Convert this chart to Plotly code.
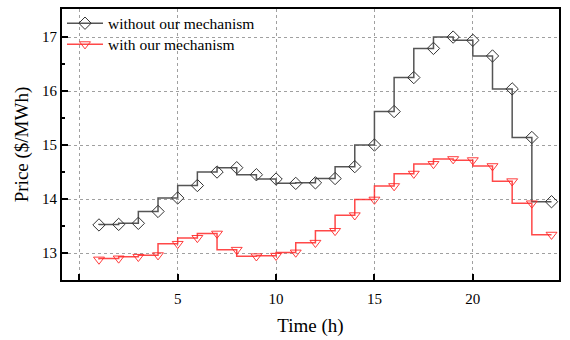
import plotly.graph_objects as go

hours = list(range(1, 25))
price_without = [13.52, 13.53, 13.55, 13.77, 14.02, 14.25, 14.50, 14.58, 14.45, 14.37, 14.29, 14.30,
                 14.38, 14.60, 15.00, 15.62, 16.25, 16.79, 17.00, 16.94, 16.65, 16.04, 15.14, 13.95]
price_with = [12.88, 12.90, 12.93, 12.96, 13.17, 13.28, 13.36, 13.06, 12.94, 12.95, 13.01, 13.19,
              13.41, 13.70, 13.99, 14.24, 14.47, 14.65, 14.74, 14.72, 14.61, 14.33, 13.92, 13.34]
x_tickvals = [0, 5, 10, 15, 20]
x_ticktext = ["", "5", "10", "15", "20"]
y_tickvals = [13, 14, 15, 16, 17]

FONT = "Liberation Serif, Times New Roman, serif"

fig = go.Figure()
fig.add_trace(go.Scatter(
    x=hours, y=price_without, name="without our mechanism", legend="legend",
    mode="lines+markers", line=dict(shape="vh", color="#555555", width=1.5),
    marker=dict(symbol="diamond-open", size=9.5, color="#333333", line=dict(width=1))))
fig.add_trace(go.Scatter(
    x=hours, y=price_with, name="with our mechanism", legend="legend2",
    mode="lines+markers", line=dict(shape="vh", color="rgba(255,40,40,0.85)", width=1.5),
    marker=dict(symbol="triangle-down-open", size=9.5, color="rgba(255,40,40,0.9)", line=dict(width=1))))

axis_common = dict(showline=True, linecolor="black", linewidth=2, mirror=True,
                   ticks="inside", tickcolor="black", tickwidth=1.5,
                   showgrid=True, gridcolor="#a0a0a0", griddash="3px,3px", gridwidth=1,
                   zeroline=False, automargin=False,
                   tickfont=dict(family=FONT, size=15, color="black"))

fig.update_xaxes(range=[-0.88, 24.38], tickvals=x_tickvals, ticktext=x_ticktext, ticklen=6,
                 ticklabelstandoff=4,
                 title=dict(text="Time (h)", font=dict(family=FONT, size=19, color="black"), standoff=13),
                 **axis_common)
fig.update_yaxes(range=[12.5, 17.52], tickvals=y_tickvals, ticklen=6,
                 minor=dict(tickvals=[12.5, 13.5, 14.5, 15.5, 16.5], ticks="inside", ticklen=3,
                            tickcolor="black", showgrid=False),
                 title=dict(text="Price ($/MWh)", font=dict(family=FONT, size=19, color="black"), standoff=8),
                 **axis_common)

legend_common = dict(x=0.0, xanchor="left", yanchor="top", bgcolor="rgba(0,0,0,0)",
                     font=dict(family=FONT, size=15.5, color="black"), itemwidth=36)

fig.update_layout(
    width=570, height=340,
    margin=dict(l=62, r=11, t=8, b=60),
    plot_bgcolor="white", paper_bgcolor="white",
    font=dict(family=FONT, color="black"),
    legend=dict(y=1.005, **legend_common),
    legend2=dict(y=0.928, **legend_common),
    showlegend=True,
)

fig.write_html("out.html", config={"displayModeBar": False},
               post_script="document.body.style.margin='0';document.body.style.padding='0';")
